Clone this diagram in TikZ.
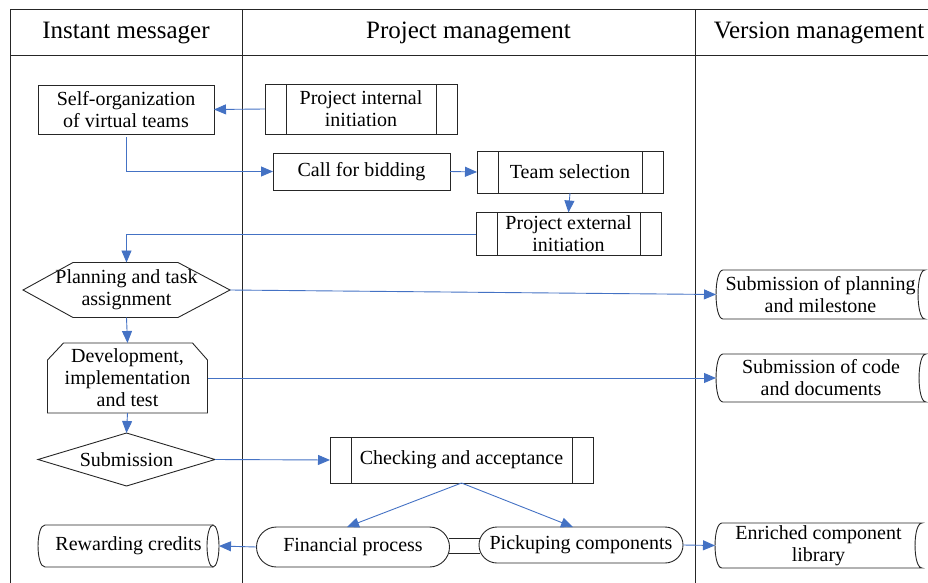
\documentclass[tikz,border=0pt]{standalone}
\usepackage{fontspec}
\setmainfont{Liberation Serif}
\usetikzlibrary{arrows.meta,calc}
\definecolor{flow}{RGB}{68,114,196}
\begin{document}
\begin{tikzpicture}[x=1pt,y=-1pt,
  every node/.style={inner sep=0pt, outer sep=0pt, align=center,
    font=\fontsize{20}{22}\selectfont},
  head/.style={font=\fontsize{25}{28}\selectfont},
  frame/.style={draw=black!85, line width=1pt},
  box/.style={draw=black!85, line width=0.9pt},
  plain/.style={box},
  predef/.style={box, path picture={
      \draw[black!85, line width=0.9pt]
        ([xshift=21pt]path picture bounding box.north west) --
        ([xshift=21pt]path picture bounding box.south west);
      \draw[black!85, line width=0.9pt]
        ([xshift=-21pt]path picture bounding box.north east) --
        ([xshift=-21pt]path picture bounding box.south east);}},
  stadium/.style={box, rounded corners=#1},
  flow/.style={draw=flow, line width=0.9pt, -{Triangle[length=12pt,width=10pt]}}
]
\useasboundingbox (0,0) rectangle (928,583);

% swimlane frame
\draw[frame] (10,583) -- (10,10) -- (940,10);
\draw[frame] (10,56) -- (940,56);
\draw[frame] (242,10) -- (242,583);
\draw[frame] (695,10) -- (695,583);

\node[head] (h1) at (126,33) {Instant messager};
\node[head] (h2) at (468.5,33) {Project management};
\node[head] (h3) at (819,33) {Version management};

% process nodes
\node[plain, minimum width=176pt, minimum height=49pt] (self) at (126,109.5)
  {Self-organization\\of virtual teams};
\node[predef, minimum width=192pt, minimum height=50pt] (pint) at (361,109)
  {Project internal\\initiation};
\node[plain, minimum width=177pt, minimum height=37pt] (bid) at (361.5,171.5)
  {Call for bidding};
\node[predef, minimum width=186pt, minimum height=42pt] (team) at (570,172)
  {Team selection};
\node[predef, minimum width=185pt, minimum height=43pt] (ext) at (568.5,234)
  {Project external\\initiation};

% preparation (hexagon)
\node[minimum width=207pt, minimum height=55pt] (plan) at (126.5,290)
  {Planning and task\\assignment};
\draw[box] (plan.west) -- ($(plan.north west)+(50,0)$) -- ($(plan.north east)+(-52,0)$)
  -- (plan.east) -- ($(plan.south east)+(-52,0)$) -- ($(plan.south west)+(50,0)$) -- cycle;

% box with cut top corners
\node[minimum width=160pt, minimum height=70pt] (dev) at (127.5,378)
  {Development,\\implementation\\and test};
\draw[box] (dev.south west) -- ($(dev.north west)+(0,17)$) -- ($(dev.north west)+(16,0)$)
  -- ($(dev.north east)+(-15,0)$) -- ($(dev.north east)+(0,17)$) -- (dev.south east) -- cycle;

% decision
\node[minimum width=177pt, minimum height=53pt] (subm) at (126.5,459.5) {Submission};
\draw[box] (subm.west) -- (subm.north) -- (subm.east) -- (subm.south) -- cycle;

\node[predef, minimum width=263pt, minimum height=46pt] (chk) at (461.5,460)
  {Checking and acceptance};
\node[stadium=20pt, minimum width=193pt, minimum height=40pt] (fin) at (353,547)
  {Financial process};
\node[stadium=18pt, minimum width=204pt, minimum height=36pt] (pick) at (581,545)
  {Pickuping components};
\draw[box] ($(fin.east)+(-1,-9)$) -- ($(pick.west)+(1,-7)$);
\draw[box] ($(fin.east)+(-1,6)$) -- ($(pick.west)+(1,8)$);

% stored credits (horizontal cylinder)
\node[minimum width=181pt, minimum height=42pt] (rew) at (128.5,546) {Rewarding credits};
\draw[box] ($(rew.south east)+(-6,0)$) -- ($(rew.south west)+(7,0)$)
  .. controls ($(rew.south west)+(-2.3,0)$) and ($(rew.north west)+(-2.3,0)$)
  .. ($(rew.north west)+(7,0)$) -- ($(rew.north east)+(-6,0)$);
\draw[box] ($(rew.east)+(-6,0)$) ellipse [x radius=6, y radius=21];

% stored data in version management
\node[minimum width=209pt, minimum height=49pt] (splan) at (820.5,294.5)
  {Submission of planning\\and milestone};
\node[minimum width=210pt, minimum height=48pt] (scode) at (821,378)
  {Submission of code\\and documents};
\node[minimum width=207pt, minimum height=45pt] (enr) at (818.5,545.5)
  {Enriched component\\library};
\foreach \n in {splan,scode,enr}
  \draw[box] ($(\n.north west)+(7,0)$)
    .. controls ($(\n.north west)+(-2.3,0)$) and ($(\n.south west)+(-2.3,0)$)
    .. ($(\n.south west)+(7,0)$) -- (\n.south east)
    .. controls ($(\n.south east)+(-9.3,0)$) and ($(\n.north east)+(-9.3,0)$)
    .. (\n.north east) -- cycle;

% flow connectors
\draw[flow] (pint.west) -- (self.east);
\draw[flow] ($(self.south)+(0,3)$) |- (bid.west);
\draw[flow] (bid.east) -- (team.west);
\draw[flow] (team.south) -- (ext.north);
\draw[flow] (ext.west) -| (plan.north);
\draw[flow] (plan.east) -- (splan.west);
\draw[flow] (plan.south) -- (dev.north);
\draw[flow] (dev.east) -- (scode.west);
\draw[flow] (dev.south) -- (subm.north);
\draw[flow] (subm.east) -- (chk.west);
\draw[flow] (chk.south) -- ($(fin.north)+(-6,0)$);
\draw[flow] (chk.south) -- ($(pick.north)+(-8,0)$);
\draw[flow] (fin.west) -- (rew.east);
\draw[flow] (pick.east) -- (enr.west);
\end{tikzpicture}
\end{document}
